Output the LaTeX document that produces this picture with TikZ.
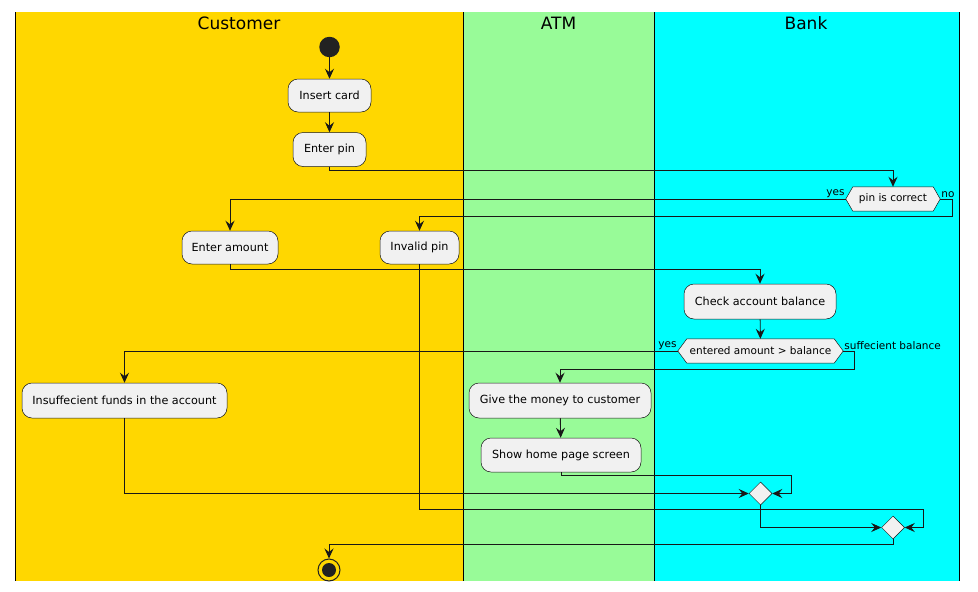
\documentclass[tikz,border=0pt]{standalone}
\usepackage{fontspec}
\setmainfont{DejaVu Sans}
\usetikzlibrary{arrows.meta,shapes.geometric,calc}
\pgfdeclarelayer{lanes}
\pgfdeclarelayer{bgl}
\pgfsetlayers{lanes,bgl,main}
\definecolor{cust}{HTML}{FFD700}
\definecolor{atm}{HTML}{98FB98}
\definecolor{bank}{HTML}{00FFFF}
\definecolor{boxf}{HTML}{F1F1F1}
\definecolor{edge}{HTML}{181818}
\definecolor{dot}{HTML}{222222}
\tikzset{
  act/.style={draw=edge, line width=0.5pt, fill=boxf, rounded corners=10pt, inner sep=0pt, font=\fontsize{11.2}{13}\selectfont, text=black},
  hex/.style={inner sep=0pt, minimum height=24pt, font=\fontsize{10.5}{12}\selectfont},
  hexd/.style={draw=edge, line width=0.5pt, fill=boxf},
  merge/.style={diamond, draw=edge, line width=0.5pt, fill=boxf, minimum size=23pt, inner sep=0pt},
  flow/.style={draw=edge, line width=0.9pt, -{Stealth[length=10pt,width=9pt,inset=3.5pt]}},
  lbl/.style={font=\fontsize{10.5}{12}\selectfont, inner sep=1pt},
  lanetitle/.style={font=\fontsize{17}{20}\selectfont, inner sep=0pt},
  laneline/.style={draw=black, line width=1pt}
}
\begin{document}
\begin{tikzpicture}[x=1pt, y=-1pt]
\useasboundingbox (0,0) rectangle (978,592);
\begin{pgfonlayer}{lanes}
\fill[cust] (15,12) rectangle (463,581);
\fill[atm] (463,12) rectangle (654,581);
\fill[bank] (654,12) rectangle (959,581);
\draw[laneline] (15,12) -- (15,581);
\draw[laneline] (463,12) -- (463,581);
\draw[laneline] (654,12) -- (654,581);
\draw[laneline] (959,12) -- (959,581);
\end{pgfonlayer}
\node[lanetitle] (tc) at (239,23) {Customer};
\node[lanetitle] (ta) at (558.5,23) {ATM};
\node[lanetitle] (tb) at (806,23) {Bank};

% nodes
\node[circle, fill=dot, minimum size=20.5pt, inner sep=0pt] (st) at (329.5,47) {};
\node[act, minimum width=83pt, minimum height=33pt] (ic) at (329.5,95.5) {Insert card};
\node[act, minimum width=73pt, minimum height=34pt] (ep) at (329.5,149.5) {Enter pin};
\node[hex, minimum width=94pt] (pc) at (893,199) {pin is correct};
\node[act, minimum width=96pt, minimum height=33pt] (ea) at (230,247.5) {Enter amount};
\node[act, minimum width=79pt, minimum height=33pt] (ip) at (419.5,247.5) {Invalid pin};
\node[act, minimum width=152pt, minimum height=35pt] (cb) at (760,301.5) {Check account balance};
\node[hex, minimum width=165pt] (dec) at (760.5,351) {entered amount > balance};
\node[act, minimum width=205pt, minimum height=35pt] (ins) at (124.5,400.5) {Insuffecient funds in the account};
\node[act, minimum width=182pt, minimum height=35pt] (gm) at (560,400.5) {Give the money to customer};
\node[act, minimum width=160pt, minimum height=34pt] (sh) at (561,455) {Show home page screen};
\node[merge] (m1) at (760.5,493.5) {};
\node[merge] (m2) at (893,527.5) {};
\node[circle, draw=dot, line width=1pt, minimum size=22pt, inner sep=0pt] (en) at (329,570) {};
\fill[dot] (en.center) circle (7pt);

\begin{pgfonlayer}{bgl}
\draw[hexd] (pc.west) -- ([xshift=7pt]pc.north west) -- ([xshift=-7pt]pc.north east) -- (pc.east) -- ([xshift=-7pt]pc.south east) -- ([xshift=7pt]pc.south west) -- cycle;
\draw[hexd] (dec.west) -- ([xshift=9pt]dec.north west) -- ([xshift=-9pt]dec.north east) -- (dec.east) -- ([xshift=-9pt]dec.south east) -- ([xshift=9pt]dec.south west) -- cycle;
\end{pgfonlayer}

% labels
\node[lbl, anchor=south east] (lyes1) at (pc.west) {yes};
\node[lbl, anchor=south west] (lno1) at (pc.east) {no};
\node[lbl, anchor=south east] (lyes2) at (dec.west) {yes};
\node[lbl, anchor=south west] (lsb) at (dec.east) {suffecient balance};

% connectors
\draw[flow] (st) -- (ic);
\draw[flow] (ic) -- (ep);
\draw[flow] (ep.south) -- ++(0,4) -| (pc.north);
\draw[flow] (pc.west) -| (ea.north);
\draw[flow] (pc.east) -- ++(12,0) -- ++(0,17) -| (ip.north);
\draw[flow] (ea.south) -- ++(0,5) -| (cb.north);
\draw[flow] (cb) -- (dec);
\draw[flow] (dec.west) -| (ins.north);
\draw[flow] (dec.east) -- ++(11,0) -- ++(0,18) -| (gm.north);
\draw[flow] (gm) -- (sh);
\draw[flow] (ins.south) |- (m1.west);
\draw[flow] (sh.south) -- ++(0,3) -| ([xshift=19pt]m1.east) -- (m1.east);
\draw[flow] (m1.south) |- (m2.west);
\draw[flow] (ip.south) -- ++(0,245) -| ([xshift=19pt]m2.east) -- (m2.east);
\draw[flow] (m2.south) -- ++(0,5) -| (en.north);
\end{tikzpicture}
\end{document}
